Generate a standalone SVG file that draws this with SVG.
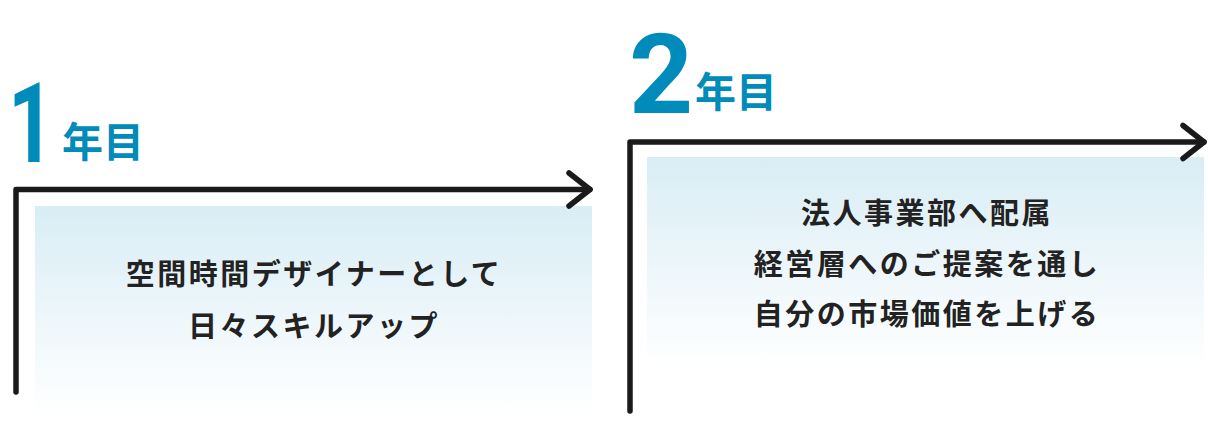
<svg xmlns="http://www.w3.org/2000/svg" width="1208" height="422" viewBox="0 0 1208 422">
  <defs>
    <linearGradient id="boxGrad" x1="0" y1="0" x2="0" y2="1">
      <stop offset="0" stop-color="#d9edf5"/>
      <stop offset="1" stop-color="#ffffff"/>
    </linearGradient>
    <style>
      .box { fill: url(#boxGrad); }
      .num { font-family: Roboto, "Liberation Sans", sans-serif; font-weight: 700; font-size: 112px; fill: #008bba; }
      .yr { font-family: "Noto Sans CJK JP", "Noto Sans", sans-serif; font-weight: 700; font-size: 41px; fill: #008bba; }
      .body { font-family: "Noto Sans CJK JP", "Noto Sans", sans-serif; font-weight: 700; font-size: 29px; fill: #222222; letter-spacing: 2.5px; text-anchor: middle; }
      .conn { fill: none; stroke: #1a1a1a; stroke-width: 5.5; stroke-linecap: round; stroke-linejoin: round; }
    </style>
  </defs>
  <rect width="1208" height="422" fill="#ffffff"/>

  <g id="year1">
    <rect class="box" x="35" y="206" width="557" height="210"/>
    <text class="num" x="0" y="162" transform="matrix(0.72,0,0,1,8,0)">1</text>
    <text class="yr" x="62" y="157">年目</text>
    <text class="body" x="314" y="285">空間時間デザイナーとして</text>
    <text class="body" x="314" y="337">日々スキルアップ</text>
  </g>

  <g id="year2">
    <rect class="box" x="647" y="157" width="557" height="212"/>
    <text class="num" x="629" y="113">2</text>
    <text class="yr" x="695" y="107">年目</text>
    <text class="body" x="927" y="224">法人事業部へ配属</text>
    <text class="body" x="927" y="275">経営層へのご提案を通し</text>
    <text class="body" x="927" y="325">自分の市場価値を上げる</text>
  </g>

  <g id="connectors">
    <path class="conn" d="M16,392 V189.5 H590"/>
    <path class="conn" d="M569,173 L590,189.5 L569,206"/>
    <path class="conn" d="M630,411 V142 H1204"/>
    <path class="conn" d="M1183,125.5 L1204,142 L1183,158.5"/>
  </g>
</svg>
